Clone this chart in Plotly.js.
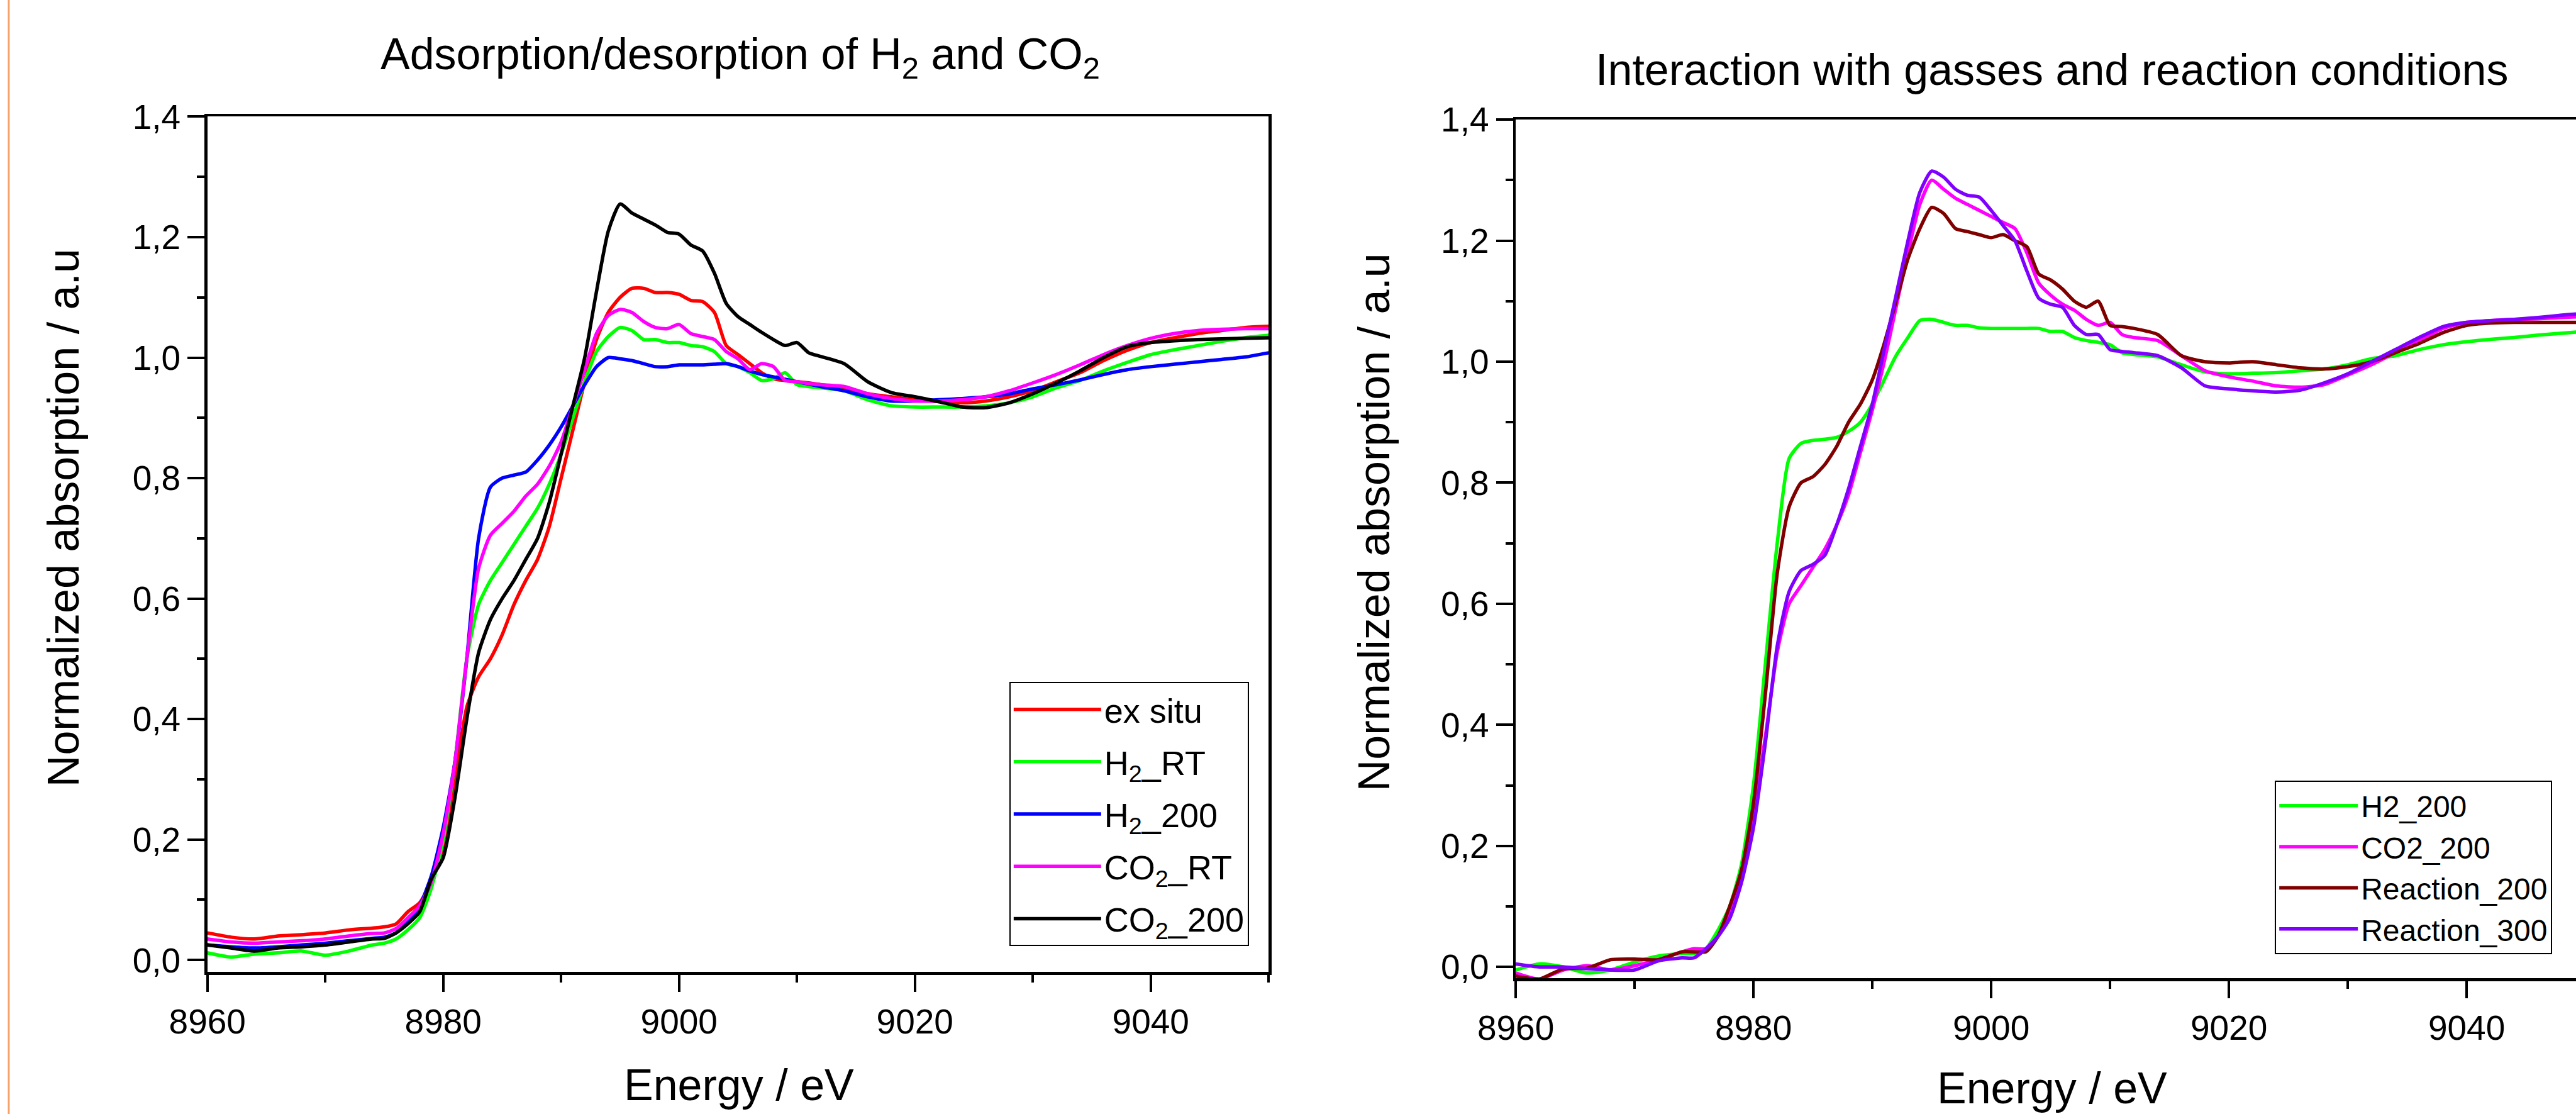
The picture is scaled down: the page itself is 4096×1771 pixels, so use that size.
<!DOCTYPE html>
<html>
<head>
<meta charset="utf-8">
<script src="https://cdn.plot.ly/plotly-3.0.1.min.js"></script>
<style>html,body{margin:0;padding:0;background:#fff;}#chart{width:4096px;height:1771px;}</style>
</head>
<body>
<div id="chart"></div>
<script>
// ---------- DATA ----------
const energy = [8960,8962,8964,8966,8968,8970,8972,8974,8975,8976,8977,8978,8979,8980,8981,8982,8983,8984,8985,8986,8987,8988,8989,8990,8991,8992,8993,8994,8995,8996,8997,8998,8999,9000,9001,9002,9003,9004,9005,9006,9007,9008,9009,9010,9011,9012,9014,9016,9018,9020,9022,9024,9026,9028,9030,9032,9034,9036,9038,9040,9042,9044,9046,9048,9050];

// Left panel: Adsorption/desorption of H2 and CO2
const exSitu = [0.045,0.038,0.035,0.040,0.042,0.045,0.050,0.053,0.055,0.060,0.080,0.095,0.130,0.190,0.300,0.420,0.470,0.500,0.540,0.590,0.630,0.665,0.720,0.800,0.880,0.960,1.030,1.075,1.100,1.115,1.115,1.108,1.108,1.105,1.095,1.093,1.075,1.020,1.005,0.990,0.975,0.965,0.962,0.960,0.958,0.955,0.950,0.940,0.935,0.930,0.927,0.925,0.928,0.935,0.945,0.960,0.975,0.995,1.012,1.025,1.033,1.040,1.045,1.050,1.052];
const h2RT = [0.012,0.005,0.010,0.012,0.015,0.008,0.015,0.025,0.028,0.035,0.050,0.070,0.120,0.200,0.330,0.500,0.590,0.630,0.660,0.690,0.720,0.750,0.790,0.840,0.900,0.960,1.010,1.035,1.050,1.045,1.030,1.030,1.025,1.025,1.020,1.018,1.010,0.990,0.985,0.975,0.962,0.965,0.975,0.955,0.952,0.950,0.945,0.930,0.920,0.918,0.918,0.918,0.920,0.925,0.935,0.950,0.962,0.978,0.992,1.005,1.013,1.020,1.027,1.033,1.037];
const h2_200 = [0.025,0.022,0.020,0.022,0.025,0.028,0.032,0.036,0.038,0.045,0.065,0.090,0.140,0.220,0.330,0.500,0.700,0.785,0.800,0.805,0.810,0.830,0.855,0.885,0.920,0.955,0.985,1.000,0.998,0.995,0.990,0.985,0.985,0.988,0.988,0.988,0.989,0.990,0.985,0.978,0.972,0.968,0.964,0.960,0.956,0.952,0.945,0.935,0.928,0.928,0.930,0.932,0.935,0.940,0.948,0.955,0.963,0.972,0.980,0.985,0.989,0.993,0.997,1.001,1.008];
const co2RT = [0.035,0.030,0.028,0.030,0.032,0.035,0.040,0.044,0.045,0.052,0.070,0.090,0.130,0.210,0.330,0.500,0.650,0.705,0.725,0.745,0.770,0.790,0.820,0.860,0.920,0.980,1.040,1.070,1.080,1.075,1.060,1.050,1.048,1.055,1.040,1.035,1.030,1.010,0.998,0.980,0.990,0.985,0.962,0.960,0.957,0.955,0.952,0.940,0.932,0.928,0.928,0.930,0.935,0.945,0.958,0.972,0.988,1.005,1.020,1.032,1.040,1.045,1.047,1.048,1.048];
const co2_200 = [0.025,0.020,0.015,0.020,0.022,0.025,0.030,0.035,0.036,0.045,0.060,0.080,0.135,0.170,0.270,0.400,0.510,0.565,0.600,0.630,0.665,0.700,0.760,0.840,0.920,1.000,1.110,1.210,1.255,1.240,1.230,1.220,1.208,1.205,1.187,1.177,1.140,1.090,1.068,1.055,1.042,1.030,1.020,1.025,1.008,1.002,0.990,0.960,0.942,0.935,0.927,0.918,0.917,0.925,0.940,0.958,0.978,1.000,1.018,1.025,1.028,1.030,1.031,1.032,1.033];

// Right panel: Interaction with gasses and reaction conditions
const h2_200b = [-0.005,0.005,0.000,-0.010,-0.005,0.008,0.018,0.022,0.022,0.030,0.060,0.100,0.170,0.300,0.500,0.700,0.840,0.865,0.870,0.872,0.875,0.885,0.900,0.930,0.970,1.010,1.040,1.068,1.070,1.065,1.060,1.060,1.056,1.055,1.055,1.055,1.055,1.055,1.050,1.050,1.040,1.035,1.032,1.028,1.015,1.012,1.008,0.995,0.983,0.980,0.981,0.982,0.985,0.988,0.995,1.005,1.010,1.020,1.028,1.033,1.037,1.040,1.044,1.047,1.050];
const co2_200b = [-0.010,-0.020,-0.005,0.002,-0.005,0.002,0.012,0.025,0.030,0.030,0.050,0.090,0.150,0.250,0.380,0.520,0.600,0.630,0.660,0.690,0.730,0.780,0.850,0.920,1.000,1.090,1.180,1.260,1.300,1.285,1.270,1.260,1.250,1.240,1.230,1.220,1.180,1.130,1.110,1.095,1.085,1.070,1.060,1.065,1.045,1.040,1.035,1.010,0.985,0.975,0.968,0.960,0.958,0.962,0.978,0.995,1.015,1.035,1.055,1.065,1.068,1.070,1.071,1.073,1.075];
const reaction200 = [-0.015,-0.020,-0.003,-0.002,0.012,0.013,0.012,0.025,0.025,0.025,0.050,0.100,0.160,0.270,0.450,0.650,0.760,0.800,0.810,0.830,0.860,0.900,0.930,0.970,1.030,1.100,1.170,1.220,1.255,1.245,1.220,1.215,1.210,1.205,1.210,1.200,1.190,1.145,1.135,1.120,1.100,1.090,1.100,1.060,1.058,1.055,1.045,1.010,1.000,0.998,1.000,0.995,0.990,0.988,0.992,1.000,1.015,1.030,1.048,1.060,1.064,1.065,1.065,1.065,1.065];
const reaction300 = [0.005,0.000,0.000,-0.003,-0.005,-0.005,0.010,0.015,0.015,0.030,0.050,0.080,0.140,0.230,0.370,0.530,0.620,0.655,0.665,0.680,0.730,0.790,0.860,0.930,1.020,1.110,1.200,1.280,1.315,1.305,1.285,1.275,1.272,1.250,1.225,1.200,1.150,1.105,1.095,1.090,1.060,1.045,1.045,1.020,1.017,1.015,1.010,0.990,0.960,0.955,0.952,0.950,0.953,0.965,0.980,1.000,1.020,1.040,1.058,1.065,1.068,1.070,1.073,1.077,1.080];

const leftNames = ['ex situ','H<sub>2</sub>_RT','H<sub>2</sub>_200','CO<sub>2</sub>_RT','CO<sub>2</sub>_200'];
const rightNames = ['H2_200','CO2_200','Reaction_200','Reaction_300'];
const xTicks = [8960,8980,9000,9020,9040];
const yTicks = [0,0.2,0.4,0.6,0.8,1.0,1.2,1.4];

// ---------- STYLE ----------
const leftColors = ['#FF0000','#00FF00','#0000FF','#FF00FF','#000000'];
const rightColors = ['#00FF00','#FF00FF','#800000','#8000FF'];
const FONT = 'Liberation Sans, Arial, Helvetica, sans-serif';
const LW = 5.5;

const traces = [];
[exSitu,h2RT,h2_200,co2RT,co2_200].forEach((ys,i)=>{
  traces.push({x:energy,y:ys,name:leftNames[i],type:'scatter',mode:'lines',
    xaxis:'x',yaxis:'y',legend:'legend',legendgroup:'L'+i,
    line:{color:leftColors[i],width:LW,shape:'spline',smoothing:0.6}});
});
[h2_200b,co2_200b,reaction200,reaction300].forEach((ys,i)=>{
  traces.push({x:energy,y:ys,name:rightNames[i],type:'scatter',mode:'lines',
    xaxis:'x2',yaxis:'y2',legend:'legend2',
    line:{color:rightColors[i],width:LW,shape:'spline',smoothing:0.6}});
});

function axisBase(extra){
  return Object.assign({
    showline:true, linecolor:'#000', linewidth:4.5,
    ticks:'outside', ticklen:27, tickwidth:4, tickcolor:'#000',
    showgrid:false, zeroline:false, fixedrange:true,
    tickfont:{family:FONT,size:55,color:'#000'}
  }, extra);
}

const layout = {
  width:4096, height:1771,
  margin:{l:0,r:0,t:0,b:0},
  paper_bgcolor:'#fff', plot_bgcolor:'#fff',
  separators:',.',
  font:{family:FONT,color:'#000',size:55},
  xaxis: axisBase({domain:[0.0805,0.4925], range:[8960,9050], anchor:'y', mirror:true,
    tickvals:xTicks, tickformat:'d',
    minor:{dtick:10, tick0:8960, ticks:'outside', ticklen:12, tickwidth:4, tickcolor:'#000', showgrid:false}}),
  yaxis: axisBase({domain:[0.1276,0.8953], range:[-0.0196,1.4], anchor:'x', mirror:true,
    tickvals:yTicks, tickformat:'.1f',
    minor:{dtick:0.1, tick0:0, ticks:'outside', ticklen:12, tickwidth:4, tickcolor:'#000', showgrid:false}}),
  xaxis2: axisBase({domain:[0.5884,1], range:[8960,9049.2], anchor:'y2', mirror:true,
    tickvals:xTicks, tickformat:'d',
    minor:{dtick:10, tick0:8960, ticks:'outside', ticklen:12, tickwidth:4, tickcolor:'#000', showgrid:false}}),
  yaxis2: axisBase({domain:[0.1217,0.8926], range:[-0.019,1.4], anchor:'x2', mirror:false,
    tickvals:yTicks, tickformat:'.1f',
    minor:{dtick:0.1, tick0:0, ticks:'outside', ticklen:12, tickwidth:4, tickcolor:'#000', showgrid:false}}),
  legend:{x:0.3918, y:0.3879, xanchor:'left', yanchor:'top', bgcolor:'#fff',
    bordercolor:'#000', borderwidth:2, font:{family:FONT,size:54,color:'#000'},
    itemwidth:139, tracegroupgap:10, traceorder:'grouped'},
  legend2:{x:0.8831, y:0.2993, xanchor:'left', yanchor:'top', bgcolor:'#fff',
    bordercolor:'#000', borderwidth:2, font:{family:FONT,size:48,color:'#000'},
    itemwidth:125, tracegroupgap:0},
  annotations:[
    {text:'Adsorption/desorption of H<sub>2</sub> and CO<sub>2</sub>', xref:'paper', yref:'paper',
     x:0.2873, y:0.9486, xanchor:'center', yanchor:'middle', showarrow:false, font:{family:FONT,size:70}},
    {text:'Interaction with gasses and reaction conditions', xref:'paper', yref:'paper',
     x:0.7966, y:0.9376, xanchor:'center', yanchor:'middle', showarrow:false, font:{family:FONT,size:70}},
    {text:'Normalized absorption / a.u', xref:'paper', yref:'paper', textangle:-90,
     x:0.0247, y:0.5353, xanchor:'center', yanchor:'middle', showarrow:false, font:{family:FONT,size:70}},
    {text:'Normalized absorption / a.u', xref:'paper', yref:'paper', textangle:-90,
     x:0.5335, y:0.5313, xanchor:'center', yanchor:'middle', showarrow:false, font:{family:FONT,size:70}},
    {text:'Energy / eV', xref:'paper', yref:'paper',
     x:0.2869, y:0.026, xanchor:'center', yanchor:'middle', showarrow:false, font:{family:FONT,size:70}},
    {text:'Energy / eV', xref:'paper', yref:'paper',
     x:0.7966, y:0.0, xanchor:'center', yanchor:'bottom', showarrow:false, font:{family:FONT,size:70}}
  ],
  shapes:[
    {type:'line', xref:'paper', yref:'paper', x0:0.0034, x1:0.0034, y0:0, y1:1,
     line:{color:'#F5A36B', width:3}}
  ]
};

Plotly.newPlot('chart', traces, layout, {staticPlot:true, displayModeBar:false});
</script>
</body>
</html>
